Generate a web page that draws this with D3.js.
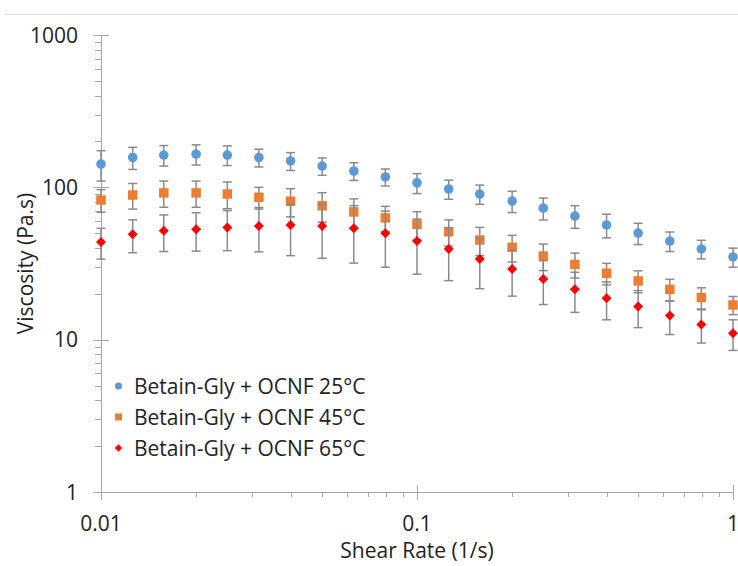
<!DOCTYPE html>
<html>
<head>
<meta charset="utf-8">
<script src="https://d3js.org/d3.v7.min.js"></script>
<style>
  body { margin: 0; background: #fff; }
  svg text { font-family: "Open Sans", sans-serif; fill: #222; }
</style>
</head>
<body>
<div id="chart"></div>
<script>
// Shear rate (1/s)
const shearRate = [0.01, 0.0126, 0.0158, 0.02, 0.0251, 0.0316, 0.0398, 0.0501, 0.0631, 0.0794,
  0.1, 0.126, 0.158, 0.2, 0.251, 0.316, 0.398, 0.501, 0.631, 0.794, 1];

// Viscosity (Pa.s) and error (+/-) per temperature
const visc25 = [142, 157, 163, 165, 163, 157, 149, 138, 128, 117, 107, 97.5, 90.4, 81.3, 73, 64.8, 56.6, 50.1, 44.4, 39.4, 34.9];
const err25  = [32, 26, 25, 25, 24, 21, 20, 18, 17, 15, 16, 14, 13, 13, 12, 11, 10, 8, 6.5, 5.5, 5];
const visc45 = [82.6, 89, 92, 92, 90.4, 86, 81, 75.7, 69, 63, 57.2, 51.1, 45.1, 40.4, 35.4, 31.2, 27.3, 24.3, 21.4, 18.9, 16.9];
const err45  = [14, 17, 18, 18, 18, 14, 17, 16.5, 15, 12, 12, 10, 9.5, 8, 7, 5.8, 4.4, 4, 3.5, 3, 2.3];
const visc65 = [43.8, 49.2, 51.9, 53.1, 54.4, 55.7, 56.6, 55.7, 53.8, 49.9, 44.4, 39.4, 33.9, 29.1, 25, 21.4, 18.7, 16.5, 14.4, 12.6, 11];
const err65  = [10, 12, 14, 15, 16, 18, 21, 21.5, 22, 20, 17.5, 15, 12.3, 9.8, 8, 6.3, 5.2, 4.5, 3.6, 3.1, 2.5];

const seriesNames = ["Betain-Gly + OCNF 25°C", "Betain-Gly + OCNF 45°C", "Betain-Gly + OCNF 65°C"];
const xTickValues = [0.01, 0.1, 1];
const yTickValues = [1, 10, 100, 1000];

const width = 738, height = 566;
const margin = { left: 101, right: 5, top: 35, bottom: 74 };

const svg = d3.select('#chart').append('svg')
  .attr('width', width)
  .attr('height', height);

// top border line of the chart area
svg.append('line')
  .attr('x1', 4).attr('x2', width)
  .attr('y1', 14.5).attr('y2', 14.5)
  .style('stroke', '#d9d9d9');

const x = d3.scaleLog().domain([0.01, 1]).range([margin.left, width - margin.right]);
const y = d3.scaleLog().domain([1, 1000]).range([height - margin.bottom, margin.top]);

const axisColor = '#a6a6a6';
const x0 = x(0.01), y0 = y(1);

// minor ticks
const minorX = x.ticks().filter(d => !xTickValues.includes(d));
const minorY = y.ticks().filter(d => !yTickValues.includes(d));

svg.append('g').selectAll('line')
  .data(minorX)
  .join('line')
  .attr('x1', d => Math.round(x(d)) + 0.5).attr('x2', d => Math.round(x(d)) + 0.5)
  .attr('y1', y0).attr('y2', y0 + 5)
  .style('stroke', axisColor);

svg.append('g').selectAll('line')
  .data(minorY)
  .join('line')
  .attr('x1', x0 - 6).attr('x2', x0)
  .attr('y1', d => Math.round(y(d)) + 0.5).attr('y2', d => Math.round(y(d)) + 0.5)
  .style('stroke', axisColor);

// major ticks (cross the axis)
svg.append('g').selectAll('line')
  .data(xTickValues)
  .join('line')
  .attr('x1', d => Math.round(x(d)) + 0.5).attr('x2', d => Math.round(x(d)) + 0.5)
  .attr('y1', y0 - 7).attr('y2', y0 + 8)
  .style('stroke', axisColor);

svg.append('g').selectAll('line')
  .data(yTickValues)
  .join('line')
  .attr('x1', x0 - 8).attr('x2', x0 + 8)
  .attr('y1', d => Math.round(y(d)) + 0.5).attr('y2', d => Math.round(y(d)) + 0.5)
  .style('stroke', axisColor);

// axis lines
svg.append('line')
  .attr('x1', x0).attr('x2', x(1) + 0.5)
  .attr('y1', Math.round(y0) + 0.5).attr('y2', Math.round(y0) + 0.5)
  .style('stroke', axisColor);
svg.append('line')
  .attr('x1', Math.round(x0) + 0.5).attr('x2', Math.round(x0) + 0.5)
  .attr('y1', y(1000)).attr('y2', y0)
  .style('stroke', axisColor);

// tick labels
svg.append('g').selectAll('text')
  .data(xTickValues)
  .join('text')
  .attr('x', d => x(d))
  .attr('y', y0 + 39)
  .attr('text-anchor', 'middle')
  .style('font-size', '21px')
  .text(d => d3.format('')(d));

svg.append('g').selectAll('text')
  .data(yTickValues)
  .join('text')
  .attr('x', 78)
  .attr('y', d => y(d) + 7.5)
  .attr('text-anchor', 'end')
  .style('font-size', '21px')
  .text(d => d);

// axis titles
svg.append('text')
  .attr('x', x(0.1))
  .attr('y', 558)
  .attr('text-anchor', 'middle')
  .style('font-size', '21px')
  .text('Shear Rate (1/s)');

svg.append('text')
  .attr('transform', `translate(33,${(y(1) + y(1000)) / 2}) rotate(-90)`)
  .attr('text-anchor', 'middle')
  .style('font-size', '21px')
  .text('Viscosity (Pa.s)');

// series (diamond = square turned 45deg, like the spreadsheet marker)
const series = [
  { name: seriesNames[0], values: visc25, errors: err25, color: '#5b9bd5', symbol: d3.symbolCircle, size: 72, rot: 0 },
  { name: seriesNames[1], values: visc45, errors: err45, color: '#ed7d31', symbol: d3.symbolSquare, size: 90, rot: 0 },
  { name: seriesNames[2], values: visc65, errors: err65, color: '#ff0000', symbol: d3.symbolSquare, size: 50, rot: 45 }
];

series.forEach(s => {
  const pts = shearRate.map((r, i) => ({ r, v: s.values[i], e: s.errors[i] }));
  const g = svg.append('g');

  // error bars
  const eb = g.selectAll('.err')
    .data(pts)
    .join('g')
    .style('stroke', '#8a8a8a')
    .style('stroke-width', 1.5);
  eb.append('line')
    .attr('x1', d => x(d.r)).attr('x2', d => x(d.r))
    .attr('y1', d => y(d.v + d.e)).attr('y2', d => y(Math.max(d.v - d.e, 1)));
  eb.append('line')
    .attr('x1', d => x(d.r) - 4.5).attr('x2', d => x(d.r) + 4.5)
    .attr('y1', d => y(d.v + d.e)).attr('y2', d => y(d.v + d.e));
  eb.append('line')
    .attr('x1', d => x(d.r) - 4.5).attr('x2', d => x(d.r) + 4.5)
    .attr('y1', d => y(d.v - d.e)).attr('y2', d => y(d.v - d.e));

  // markers
  g.selectAll('.pt')
    .data(pts)
    .join('path')
    .attr('transform', d => `translate(${x(d.r)},${y(d.v)}) rotate(${s.rot})`)
    .attr('d', d3.symbol().type(s.symbol).size(s.size))
    .style('fill', s.color);
});

// legend
const legend = svg.append('g');
series.forEach((s, i) => {
  const ly = 386 + i * 31;
  legend.append('path')
    .attr('transform', `translate(118.5,${ly}) rotate(${s.rot})`)
    .attr('d', d3.symbol().type(s.symbol).size(s.size * 0.55))
    .style('fill', s.color);
  legend.append('text')
    .attr('x', 134)
    .attr('y', ly + 7.5)
    .style('font-size', '21px')
    .text(s.name);
});
</script>
</body>
</html>
